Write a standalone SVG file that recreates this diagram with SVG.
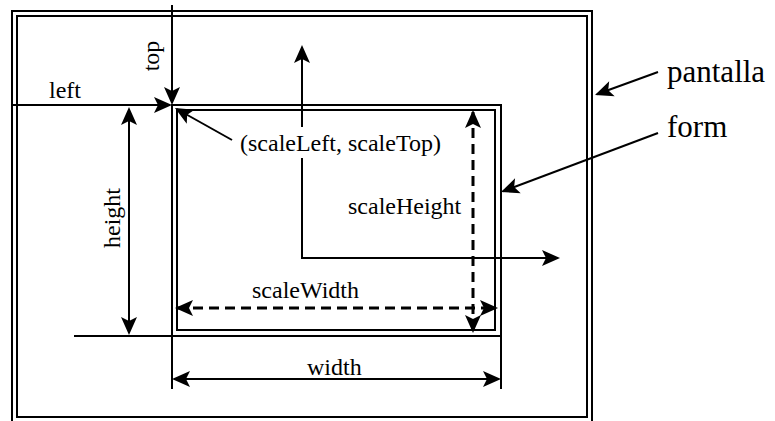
<svg xmlns="http://www.w3.org/2000/svg" width="775" height="421" viewBox="0 0 775 421">
<style>
  .ln { fill: none; stroke: #000; stroke-width: 2; }
  .dash { fill: none; stroke: #000; stroke-width: 3; stroke-dasharray: 10 6; }
  .fr { fill: none; stroke: #000; stroke-width: 2; }
  text { font-family: "Liberation Serif", "Times New Roman", serif; font-size: 24px; fill: #000; }
  .big { font-size: 31px; }
</style>
<defs>
  <marker id="ah" markerUnits="userSpaceOnUse" markerWidth="24" markerHeight="20" viewBox="-20 -10 24 20" refX="-2" refY="0" orient="auto-start-reverse" overflow="visible">
    <path d="M0,0 L-18,-8 L-14,0 L-18,8 Z" fill="#000"/>
  </marker>
</defs>
<rect width="775" height="421" fill="#fff"/>
<g id="pantalla">
  <rect class="fr" x="12" y="11" width="580" height="430"/>
  <rect class="fr" x="17" y="16" width="570" height="401"/>
</g>
<g id="form">
  <rect class="fr" x="172" y="105" width="329" height="231"/>
  <rect class="fr" x="177" y="110" width="318" height="220"/>
</g>
<g id="connectors">
  <line class="ln" x1="172" y1="5" x2="172" y2="103" marker-end="url(#ah)"/>
  <line class="ln" x1="12" y1="105" x2="170" y2="105" marker-end="url(#ah)"/>
  <line class="ln" x1="232" y1="140" x2="176.7" y2="109" marker-end="url(#ah)"/>
  <line class="ln" x1="129" y1="109" x2="129" y2="333" marker-start="url(#ah)" marker-end="url(#ah)"/>
  <line class="ln" x1="74" y1="336" x2="172" y2="336"/>
  <line class="ln" x1="172" y1="336" x2="172" y2="389"/>
  <line class="ln" x1="501" y1="336" x2="501" y2="389"/>
  <line class="ln" x1="174" y1="379" x2="499" y2="379" marker-start="url(#ah)" marker-end="url(#ah)"/>
  <path class="ln" d="M302,47 L302,258 L558,258" marker-start="url(#ah)" marker-end="url(#ah)"/>
  <line class="dash" x1="473" y1="112" x2="473" y2="331" marker-start="url(#ah)" marker-end="url(#ah)"/>
  <line class="dash" x1="177" y1="308" x2="496" y2="308" marker-start="url(#ah)" marker-end="url(#ah)"/>
  <line class="ln" x1="658" y1="72" x2="596.9" y2="94.3" marker-end="url(#ah)"/>
  <line class="ln" x1="658" y1="133" x2="502.9" y2="191.3" marker-end="url(#ah)"/>
</g>
<g id="labels">
  <text x="49" y="98">left</text>
  <text x="159" y="56" text-anchor="middle" transform="rotate(-90 159 56)">top</text>
  <text x="120" y="218" text-anchor="middle" transform="rotate(-90 120 218)">height</text>
  <rect x="238" y="127" width="200" height="31" fill="#fff"/>
  <text x="240" y="151">(scaleLeft, scaleTop)</text>
  <text x="348" y="214">scaleHeight</text>
  <text x="252" y="298">scaleWidth</text>
  <text x="307" y="375">width</text>
  <text class="big" x="667" y="82">pantalla</text>
  <text class="big" x="667" y="137">form</text>
</g>
</svg>
